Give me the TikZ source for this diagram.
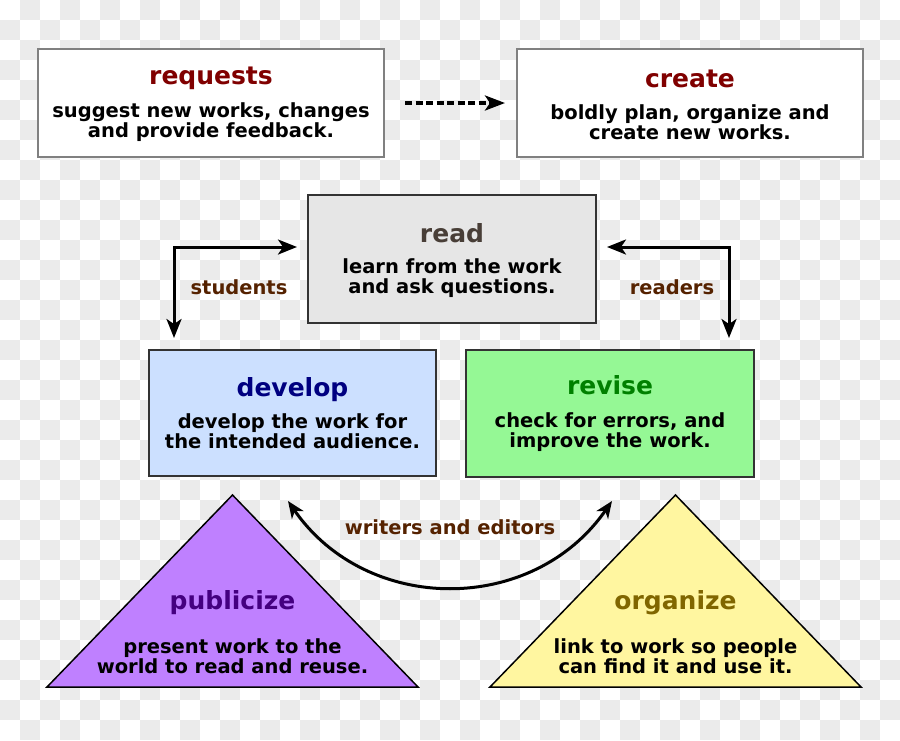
\documentclass[tikz,border=0pt]{standalone}
\usepackage{fontspec}
\setmainfont{DejaVu Sans}
\usetikzlibrary{arrows.meta}
\definecolor{chk}{HTML}{EBEBEB}
\definecolor{boxgray}{HTML}{808080}
\definecolor{boxdark}{HTML}{333333}
\definecolor{titlered}{HTML}{800000}
\definecolor{titleread}{HTML}{483E37}
\definecolor{titleblue}{HTML}{000080}
\definecolor{titlegreen}{HTML}{008000}
\definecolor{titlepurple}{HTML}{440080}
\definecolor{titleolive}{HTML}{806600}
\definecolor{labelbrown}{HTML}{552200}
\definecolor{fillread}{HTML}{E6E6E6}
\definecolor{filldev}{HTML}{CCE0FF}
\definecolor{fillrev}{HTML}{95F895}
\definecolor{fillpub}{HTML}{BF80FF}
\definecolor{fillorg}{HTML}{FFF6A0}
\begin{document}
\begin{tikzpicture}[x=1pt,y=-1pt,
  boxnode/.style={rectangle, line width=2pt, inner sep=0pt},
  titletext/.style={anchor=base, inner sep=0pt, font=\fontsize{25}{30}\selectfont\bfseries},
  bodytext/.style={align=center, inner sep=0pt, font=\fontsize{19.5}{20}\selectfont\bfseries},
  labeltext/.style={anchor=base, inner sep=0pt, text=labelbrown, font=\fontsize{19.5}{20}\selectfont\bfseries},
  tipshape/.style={},
  flowarrow/.style={line width=3pt, {Stealth[length=19pt,width=15pt,inset=5pt]}-{Stealth[length=19pt,width=15pt,inset=5pt]}},
  tri/.style={draw=black, line width=1.5pt, line join=miter}
]
\useasboundingbox (0,0) rectangle (900,740);
\fill[white] (0,0) rectangle (900,740);
\foreach \j in {0,...,36}{
  \pgfmathtruncatemacro{\st}{mod(\j+1,2)}
  \pgfmathtruncatemacro{\stb}{\st+2}
  \foreach \i in {\st,\stb,...,44}{
    \fill[chk] (\i*20,\j*20) rectangle ++(20,20);
  }
}

% boxes
\node[boxnode, fill=white, draw=boxgray, minimum width=346pt, minimum height=108pt] (requests) at (211,103) {};
\node[titletext, text=titlered] (requeststitle) at (211,84) {requests};
\node[bodytext] (requestsbody) at (211,122) {suggest new works, changes\\and provide feedback.};

\node[boxnode, fill=white, draw=boxgray, minimum width=346pt, minimum height=108pt] (create) at (690,103) {};
\node[titletext, text=titlered] (createtitle) at (690,87) {create};
\node[bodytext] (createbody) at (690,122.5) {boldly plan, organize and\\create new works.};

\node[boxnode, fill=fillread, draw=boxdark, minimum width=288pt, minimum height=128pt] (read) at (452,259) {};
\node[titletext, text=titleread] (readtitle) at (452,242) {read};
\node[bodytext] (readbody) at (452,278) {learn from the work\\and ask questions.};

\node[boxnode, fill=filldev, draw=boxdark, minimum width=287pt, minimum height=126pt] (develop) at (292.5,413) {};
\node[titletext, text=titleblue] (developtitle) at (292.5,396) {develop};
\node[bodytext] (developbody) at (292.5,431.5) {develop the work for\\the intended audience.};

\node[boxnode, fill=fillrev, draw=boxdark, minimum width=288pt, minimum height=127pt] (revise) at (610,413.5) {};
\node[titletext, text=titlegreen] (revisetitle) at (610,394) {revise};
\node[bodytext] (revisebody) at (610,432) {check for errors, and\\improve the work.};

% triangles
\coordinate (pubtop) at (232.5,495);
\coordinate (pubright) at (418,687);
\coordinate (publeft) at (47,687);
\draw[tri, fill=fillpub] (pubtop) -- (pubright) -- (publeft) -- cycle;
\node[titletext, text=titlepurple] (pubtitle) at (232.5,609) {publicize};
\node[bodytext] (pubbody) at (232.5,656.5) {present work to the\\world to read and reuse.};

\coordinate (orgtop) at (675.5,495);
\coordinate (orgright) at (861,687);
\coordinate (orgleft) at (490,687);
\draw[tri, fill=fillorg] (orgtop) -- (orgright) -- (orgleft) -- cycle;
\node[titletext, text=titleolive] (orgtitle) at (675.5,609) {organize};
\node[bodytext] (orgbody) at (675.5,656.5) {link to work so people\\can find it and use it.};

% dashed arrow
\coordinate (dashstart) at (405,103);
\coordinate (dashend) at (505,103);
\draw[line width=3.5pt, dash pattern=on 7pt off 3.5pt, -{Stealth[length=20pt,width=15pt,inset=5pt]}] (dashstart) -- (dashend);

% students
\coordinate (stud1) at (174,338);
\coordinate (stud2) at (297,247);
\draw[flowarrow] (stud1) |- (stud2);
\node[labeltext] (students) at (239,294) {students};

% readers
\coordinate (read1) at (729,338);
\coordinate (read2) at (607,247);
\draw[flowarrow] (read1) |- (read2);
\node[labeltext] (readers) at (672,294) {readers};

% writers and editors
\coordinate (wl) at (288,501);
\coordinate (wr) at (612,501);
\draw[line width=3pt, {Stealth[length=17pt,width=14pt,inset=5pt]}-{Stealth[length=17pt,width=14pt,inset=5pt]}] (wl) .. controls (367,615) and (533,615) .. (wr);
\node[labeltext] (writers) at (450,534) {writers and editors};
\end{tikzpicture}
\end{document}
